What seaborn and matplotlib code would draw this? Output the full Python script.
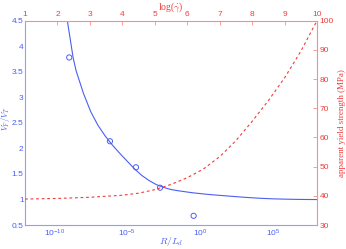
import numpy as np
import seaborn as sns
import matplotlib
matplotlib.use("Agg")
import matplotlib.pyplot as plt
from matplotlib.ticker import FixedLocator, NullLocator

# blue curve: log10(R/L_d) vs V_F/V_T
blue_logx = [-9.1, -8.7, -8.5, -8.0, -7.5, -7.0, -6.5, -6.0, -5.5, -5.0,
             -4.5, -4.0, -3.5, -3.0, -2.5, -2.0, -1.5, -1.0, -0.5, 0.0,
             0.5, 1.0, 2.0, 3.0, 4.0, 5.0, 6.0, 7.0, 8.0]
blue_y = [4.50, 3.77, 3.52, 3.08, 2.72, 2.45, 2.24, 2.06, 1.90, 1.75,
          1.60, 1.47, 1.37, 1.29, 1.235, 1.195, 1.17, 1.15, 1.13, 1.115,
          1.10, 1.088, 1.065, 1.043, 1.025, 1.012, 1.005, 1.0, 0.998]

# measured points
pts_logx = [-8.97, -6.18, -4.4, -2.75, -0.45]
pts_y = [3.78, 2.14, 1.63, 1.23, 0.68]

# red curve: log(rate) vs apparent yield strength (MPa)
red_t = [1, 2, 3, 4, 4.5, 5, 5.5, 6, 6.5, 7, 7.5, 8, 8.5, 9, 9.5, 10]
red_y = [38.9, 39.1, 39.5, 40.2, 40.9, 42.1, 43.9, 46.2, 49.2, 53.4,
         58.9, 65.5, 72.6, 80.4, 89.5, 100]

BLUE = "#4b5ff2"
BLUE_AX = "#8e9dff"
RED = "#f03c3c"
RED_AX = "#ff8a8a"

sns.set_style("white")
plt.rcParams['font.family'] = ['Liberation Sans', 'DejaVu Sans']
plt.rcParams['mathtext.fontset'] = 'cm'

fig = plt.figure(figsize=(3.46, 2.49), dpi=100)
pos = [25 / 346, 24 / 249, 292 / 346, 204.3 / 249]
ax = fig.add_axes(pos)
ax2 = fig.add_axes(pos, facecolor="none")

bx = [10.0 ** v for v in blue_logx]
px = [10.0 ** v for v in pts_logx]
sns.lineplot(x=bx, y=blue_y, ax=ax, color=BLUE, linewidth=0.8, sort=False)
sns.scatterplot(x=px, y=pts_y, ax=ax, marker="o", s=14, facecolors="none",
                edgecolor=BLUE, linewidth=0.7)
ax.set_xscale("log")
ax.set_xlim(1e-12, 1e8)
ax.set_ylim(0.5, 4.5)
ax.xaxis.set_major_locator(FixedLocator([1e-10, 1e-5, 1e0, 1e5]))
ax.xaxis.set_minor_locator(NullLocator())
ax.set_yticks(np.arange(0.5, 4.51, 0.5))
ax.set_yticklabels(["0.5", "1", "1.5", "2", "2.5", "3", "3.5", "4", "4.5"])
ax.tick_params(direction="in", length=3, width=0.6, labelsize=6,
               colors=BLUE_AX, labelcolor=BLUE, pad=2)
ax.tick_params(axis="y", pad=1.0)
ax.set_xlabel("$R/L_d$", color=BLUE, fontsize=7)
ax.set_ylabel("$V_F/V_T$", color=BLUE, fontsize=6)
ax.xaxis.set_label_coords(0.5, -0.05)
ax.yaxis.set_label_coords(-0.043, 0.52)
for s in ["left", "bottom"]:
    ax.spines[s].set_color(BLUE_AX)
    ax.spines[s].set_linewidth(0.8)
for s in ["top", "right"]:
    ax.spines[s].set_visible(False)

sns.lineplot(x=red_t, y=red_y, ax=ax2, color=RED, linewidth=0.8,
             linestyle=(0, (2.5, 2.5)), sort=False)
ax2.set_xlim(1, 10)
ax2.set_ylim(30, 100)
ax2.xaxis.tick_top()
ax2.xaxis.set_label_position("top")
ax2.yaxis.tick_right()
ax2.yaxis.set_label_position("right")
ax2.set_xticks(range(1, 11))
ax2.set_yticks(range(30, 101, 10))
ax2.tick_params(direction="in", length=3, width=0.6, labelsize=6,
                colors=RED_AX, labelcolor=RED, pad=2)
ax2.set_xlabel(r"log($\dot{\gamma}$)", color=RED, fontsize=7,
               family="Liberation Serif", labelpad=1)
ax2.set_ylabel("apparent yield strength (MPa)", color=RED, fontsize=6.5,
               family="Liberation Serif", labelpad=3)
for s in ["top", "right"]:
    ax2.spines[s].set_color(RED_AX)
    ax2.spines[s].set_linewidth(0.8)
for s in ["left", "bottom"]:
    ax2.spines[s].set_visible(False)

fig.savefig("out.png", dpi=100)
